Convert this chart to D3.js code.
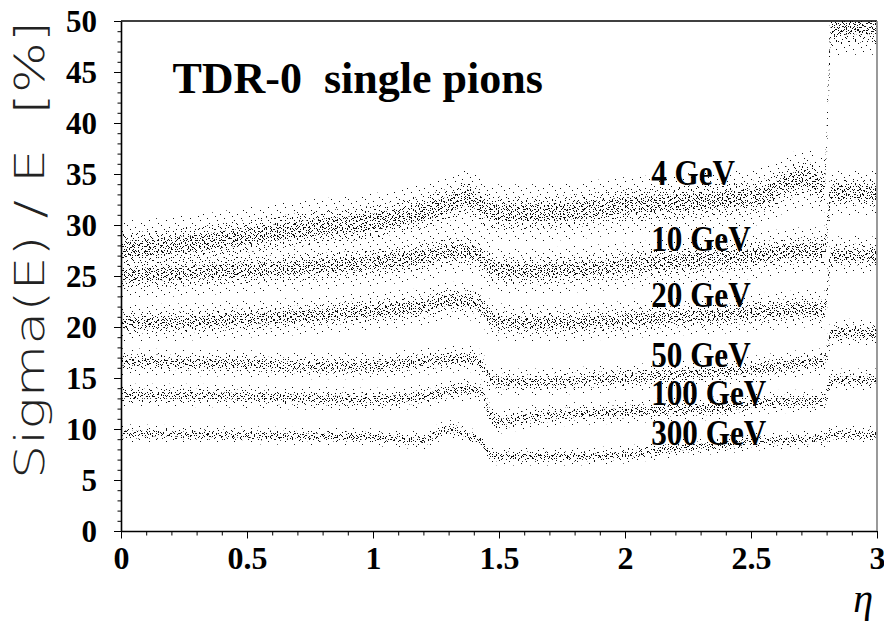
<!DOCTYPE html>
<meta charset="utf-8">
<style>
    body {
        margin: 0;
        background: #fff;
    }

    svg {
        display: block;
    }

    .tick text {
        font: bold 31px "Liberation Serif", "Times New Roman", serif;
        fill: #000;
    }

    .elabel {
        font: bold 35px "Liberation Serif", "Times New Roman", serif;
        fill: #000;
    }
</style>

<body>
    <script src="https://cdn.jsdelivr.net/npm/d3@7"></script>
    <script>
        var eta = [0, 0.25, 0.5, 0.75, 1.0, 1.2, 1.25, 1.3, 1.38, 1.43, 1.46, 1.5, 1.6, 1.75, 2.0, 2.2, 2.4, 2.55, 2.65, 2.72, 2.79, 2.82, 2.9, 3.0];

        // band centre of Sigma(E)/E [%] for each beam energy
        var sig4   = [27.6, 28.1, 28.9, 29.7, 30.3, 31.3, 31.6, 32.0, 32.7, 31.8, 31.3, 31.2, 31.2, 31.3, 31.9, 32.2, 32.5, 32.9, 34.2, 34.6, 33.8, 49.3, 49.5, 49.5];
        var sig10  = [25.1, 25.3, 25.6, 25.9, 26.3, 26.9, 27.1, 27.4, 27.4, 26.8, 26.0, 25.6, 25.5, 25.6, 26.0, 26.4, 26.8, 27.1, 27.4, 27.5, 27.5, 33.2, 33.2, 33.1];
        var sig20  = [20.4, 20.5, 20.8, 21.1, 21.6, 22.0, 22.3, 22.6, 22.5, 22.0, 21.0, 20.5, 20.4, 20.4, 20.7, 21.0, 21.2, 21.5, 21.7, 21.8, 21.6, 27.0, 27.1, 27.0];
        var sig50  = [16.6, 16.5, 16.4, 16.2, 16.2, 16.6, 16.7, 16.8, 16.9, 16.4, 15.0, 14.7, 14.6, 14.7, 15.0, 15.3, 15.6, 16.0, 16.3, 16.5, 16.6, 19.4, 19.5, 19.4];
        var sig100 = [13.3, 13.3, 13.2, 13.0, 12.9, 13.2, 13.4, 13.7, 13.9, 13.7, 11.5, 10.7, 11.1, 11.4, 11.7, 11.9, 12.1, 12.6, 12.7, 12.7, 12.8, 14.8, 14.8, 14.8];
        var sig300 = [9.6, 9.5, 9.4, 9.3, 9.2, 8.9, 9.5, 10.0, 9.3, 8.7, 7.6, 7.3, 7.3, 7.3, 7.5, 8.1, 8.5, 8.8, 8.9, 9.0, 9.1, 9.5, 9.5, 9.4];

        // half width of each band [%]
        var spread = [1.6, 1.3, 1.05, 0.75, 0.65, 0.5];

        var energies = ["4 GeV", "10 GeV", "20 GeV", "50 GeV", "100 GeV", "300 GeV"];
        var labelSig = [33.9, 27.5, 22.0, 16.1, 12.35, 8.4];

        var yTicks = [0, 5, 10, 15, 20, 25, 30, 35, 40, 45, 50];
        var xTicks = [0, 0.5, 1, 1.5, 2, 2.5, 3];

        var bands = [sig4, sig10, sig20, sig50, sig100, sig300];

        var margin = {top: 21, right: 7, bottom: 93, left: 121},
            width = 884 - margin.left - margin.right,
            height = 624 - margin.top - margin.bottom;

        var svg = d3.select("body").append("svg")
            .attr("width", 884)
            .attr("height", 624);

        var x = d3.scaleLinear().domain([0, 3]).range([0, width]);
        var y = d3.scaleLinear().domain([0, 50]).range([height, 0]);

        // dot textures: tiles of odd sizes with scattered 1px points,
        // stacked so the repeat is hard to see (speckled scatter look)
        var pats = [
            {id: "pA", w: 17, h: 13, d: [[1, 2], [6, 9], [11, 4], [14, 11], [3, 7], [9, 0]]},
            {id: "pB", w: 19, h: 11, d: [[2, 5], [7, 1], [12, 8], [16, 3], [5, 9], [10, 6], [17, 10]]},
            {id: "pC", w: 13, h: 17, d: [[0, 3], [4, 12], [8, 6], [11, 15], [6, 1], [2, 9], [10, 10]]},
            {id: "pD", w: 23, h: 7, d: [[1, 1], [5, 4], [9, 2], [14, 5], [18, 0], [21, 3], [12, 6], [3, 6]]},
            {id: "pE", w: 11, h: 19, d: [[2, 2], [7, 5], [4, 10], [9, 13], [1, 16], [6, 17], [10, 8], [3, 6]]},
            {id: "pF", w: 29, h: 5, d: [[0, 2], [4, 0], [8, 3], [13, 1], [17, 4], [21, 2], [25, 0], [27, 3], [11, 4]]}
        ];

        var defs = svg.append("defs");
        pats.forEach(function(p) {
            var pt = defs.append("pattern")
                .attr("id", p.id)
                .attr("patternUnits", "userSpaceOnUse")
                .attr("width", p.w)
                .attr("height", p.h);
            p.d.forEach(function(q) {
                pt.append("rect")
                    .attr("x", q[0]).attr("y", q[1])
                    .attr("width", 1).attr("height", 1)
                    .attr("fill", "#111");
            });
        });

        defs.append("clipPath").attr("id", "plotclip")
            .append("rect")
            .attr("width", width).attr("height", height);

        var g = svg.append("g")
            .attr("transform", "translate(" + margin.left + "," + margin.top + ")");

        var plot = g.append("g").attr("clip-path", "url(#plotclip)");

        var layers = [
            {k: 1.75, fills: ["pA"]},
            {k: 1.0, fills: ["pB", "pC"]},
            {k: 0.5, fills: ["pD", "pE", "pF"]}
        ];

        bands.forEach(function(s, bi) {
            layers.forEach(function(L) {
                var area = d3.area()
                    .x(function(d, i) { return x(eta[i]); })
                    .y0(function(d) { return y(d - L.k * spread[bi]); })
                    .y1(function(d) { return y(d + L.k * spread[bi]); })
                    .curve(d3.curveMonotoneX);
                L.fills.forEach(function(f) {
                    plot.append("path")
                        .attr("d", area(s))
                        .attr("fill", "url(#" + f + ")");
                });
            });
        });

        // axes
        var yMinor = g.append("g")
            .call(d3.axisLeft(y).tickValues(d3.range(0, 51, 1)).tickSize(3.5).tickFormat(""));
        yMinor.select(".domain").remove();

        var yAxis = g.append("g")
            .call(d3.axisLeft(y).tickValues(yTicks).tickSize(7).tickSizeOuter(0).tickPadding(17));
        yAxis.select(".domain").attr("stroke-width", 1.6);
        yAxis.selectAll(".tick text").attr("dy", "0.33em");

        var xMinor = g.append("g")
            .attr("transform", "translate(0," + height + ")")
            .call(d3.axisBottom(x).tickValues(d3.range(0, 31, 1).map(function(v) { return v / 10; })).tickSize(4.5).tickFormat(""));
        xMinor.select(".domain").remove();

        var xAxis = g.append("g")
            .attr("transform", "translate(0," + height + ")")
            .call(d3.axisBottom(x).tickValues(xTicks).tickSize(7.5).tickSizeOuter(0).tickFormat(d3.format("")));
        xAxis.select(".domain").attr("stroke-width", 1.6);
        xAxis.selectAll(".tick text").attr("y", 38).attr("dy", 0).style("font-size", "32px");

        // frame: black top, grey right side
        g.append("line")
            .attr("x1", 0).attr("x2", width).attr("y1", 0).attr("y2", 0)
            .attr("stroke", "#000").attr("stroke-width", 1.6);
        g.append("line")
            .attr("x1", width).attr("x2", width).attr("y1", 0).attr("y2", height)
            .attr("stroke", "#808080").attr("stroke-width", 1.6);

        // energy labels, a bit condensed like the original lettering
        g.selectAll(".elabel")
            .data(energies)
            .enter().append("text")
            .attr("class", "elabel")
            .attr("x", x(2.104))
            .attr("y", function(d, i) { return y(labelSig[i]); })
            .text(function(d) { return d; })
            .each(function() {
                var w = this.getComputedTextLength();
                d3.select(this).attr("textLength", w * 0.89).attr("lengthAdjust", "spacingAndGlyphs");
            });

        g.append("text")
            .attr("x", x(0.204))
            .attr("y", y(42.9))
            .style("font", "bold 44px 'Liberation Serif', 'Times New Roman', serif")
            .attr("xml:space", "preserve")
            .text("TDR-0  single pions");

        // axis titles
        svg.append("text")
            .attr("transform", "translate(44,250) rotate(-90)")
            .attr("text-anchor", "middle")
            .attr("xml:space", "preserve")
            .attr("textLength", 458)
            .attr("lengthAdjust", "spacingAndGlyphs")
            .style("font", "200 40px 'DejaVu Sans', sans-serif")
            .style("fill", "#222")
            .text("Sigma(E) / E  [%]");

        svg.append("text")
            .attr("x", 873)
            .attr("y", 612)
            .attr("text-anchor", "end")
            .style("font", "italic 40px 'Liberation Serif', 'Times New Roman', serif")
            .text("\u03b7");
    </script>
</body>

</html>
